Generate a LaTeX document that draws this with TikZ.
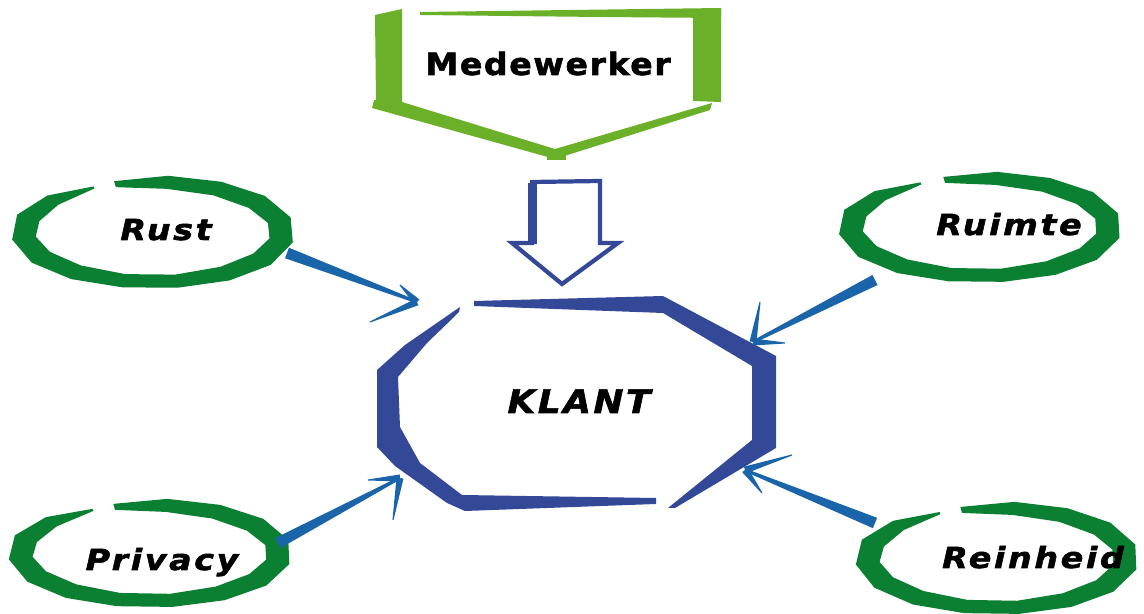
\documentclass[tikz,border=0pt]{standalone}
\usepackage{fontspec}
\setmainfont{DejaVu Sans}[BoldFont={DejaVu Sans Bold},ItalicFont={DejaVu Sans Oblique},BoldItalicFont={DejaVu Sans Bold Oblique}]
\usetikzlibrary{calc}
\definecolor{ringgreen}{RGB}{12,128,50}
\definecolor{mgreen}{RGB}{106,176,40}
\definecolor{kblue}{RGB}{51,73,152}
\definecolor{ablue}{RGB}{26,100,170}
% ring: center x, center y, mid radius a, mid radius b, angle after gap, angle before gap (+360)
\newcommand\greenring[6]{%
  \fill[ringgreen] plot[domain=#5:#6,samples=16]
    ({#1+(#3+0.5*rw(\x,#5,#6))*cos(\x)},{#2+(#4+0.5*rw(\x,#5,#6))*sin(\x)})
    -- plot[domain=#6:#5,samples=16]
    ({#1+(#3-0.5*rw(\x,#5,#6))*cos(\x)},{#2+(#4-0.5*rw(\x,#5,#6))*sin(\x)}) -- cycle;}
% tapered stroke: from #1 (half width #3) to #2 (half width #4)
\newcommand\taper[4]{%
  \fill[ablue] ($(#1)!#3!90:(#2)$) -- ($(#2)!#4!-90:(#1)$) -- ($(#2)!#4!90:(#1)$) -- ($(#1)!#3!-90:(#2)$) -- cycle;}
\tikzset{
  lbl/.style={font=\fontsize{16.5}{19}\selectfont\bfseries\itshape\addfontfeature{FakeStretch=1.15,FakeBold=1.8,LetterSpace=9},anchor=base,inner sep=0pt},
  klbl/.style={font=\fontsize{18.5}{21}\selectfont\bfseries\itshape\addfontfeature{FakeStretch=1.1,FakeBold=1.8,LetterSpace=8},anchor=base,inner sep=0pt},
  mlbl/.style={font=\fontsize{17.5}{20}\selectfont\bfseries\addfontfeature{FakeStretch=1.08,FakeBold=1.8,LetterSpace=5},anchor=base,inner sep=0pt},
}
\begin{document}
\begin{tikzpicture}[x=0.02cm,y=-0.02cm,
  declare function={rw(\myt,\mys,\mye)=(13+11*cos(\myt)*cos(\myt))*min(1,0.45+(\myt-\mys)/40,0.15+(\myt*(-1)+\mye)/40);}]
\useasboundingbox (0,0) rectangle (1144,614);

% Medewerker banner
\fill[mgreen] (375,15) -- (402,9) -- (402,103) -- (376,101) -- cycle;
\fill[mgreen] (420,12) -- (721,8) -- (721,18) -- (600,17) -- (420,15) -- cycle;
\fill[mgreen] (693,10) -- (721,8) -- (721,102) -- (693,101) -- cycle;
\fill[mgreen] (374,100) -- (402,102) -- (555,149) -- (555,159) -- (372,108) -- cycle;
\fill[mgreen] (555,149) -- (712,103) -- (710,110) -- (555,159) -- cycle;
\fill[mgreen] (547,150) rectangle (566,160);
\node[mlbl] (med) at (548,75) {Medewerker};

% down arrow
\draw[kblue,line width=2.4pt,line join=miter] (532,182) -- (600,181) -- (600,243) -- (618,243) -- (562,284) -- (512,243) -- (532,243) -- cycle;
\fill[kblue] (528,183) rectangle (537,244);

% KLANT frame
\fill[kblue] (474,301) -- (663,296) -- (776,356) -- (776,448) -- (675,508)
  -- (668,508) -- (752,440) -- (752,366) -- (663,313) -- (474,306) -- cycle;
\fill[kblue] (656,504) -- (465,511) -- (447,503) -- (395,466) -- (377,447) -- (377,370) -- (405,345) -- (460,307)
  -- (459,312) -- (453,318) -- (427,343) -- (398,377) -- (400,427) -- (420,463) -- (462,495) -- (656,498) -- cycle;
\node[klbl] (klant) at (579,413) {KLANT};

% rings
\greenring{153}{232}{130}{50}{253}{603}
\node[lbl] (rust) at (166,240) {Rust};
\greenring{980}{227}{130}{49}{254}{603}
\node[lbl] (ruimte) at (1009,235) {Ruimte};
\greenring{150}{553}{130}{48}{254}{604}
\node[lbl] (privacy) at (162,570) {Privacy};
\greenring{997}{558}{130}{50}{254}{604}
\node[lbl] (reinheid) at (1033,568) {Reinheid};

% arrows
\coordinate (rs) at (287,253); \coordinate (rt) at (417,302);
\coordinate (rb1) at (400,285); \coordinate (rb2) at (370,322);
\taper{rs}{rt}{3.2pt}{0.8pt}\taper{rt}{rb1}{2pt}{0.3pt}\taper{rt}{rb2}{2pt}{0.3pt}

\coordinate (us) at (875,280); \coordinate (ut) at (753,342);
\coordinate (ub1) at (760,302); \coordinate (ub2) at (785,343);
\taper{us}{ut}{3.2pt}{0.8pt}\taper{ut}{ub1}{2pt}{0.3pt}\taper{ut}{ub2}{2pt}{0.3pt}

\coordinate (ps) at (278,543); \coordinate (pt) at (400,478);
\coordinate (pb1) at (368,480); \coordinate (pb2) at (393,520);
\taper{ps}{pt}{3.2pt}{0.8pt}\taper{pt}{pb1}{2pt}{0.3pt}\taper{pt}{pb2}{2pt}{0.3pt}

\coordinate (hs) at (875,523); \coordinate (ht) at (745,470);
\coordinate (hb1) at (792,455); \coordinate (hb2) at (762,493);
\taper{hs}{ht}{3.2pt}{0.8pt}\taper{ht}{hb1}{2pt}{0.3pt}\taper{ht}{hb2}{2pt}{0.3pt}
\end{tikzpicture}
\end{document}
